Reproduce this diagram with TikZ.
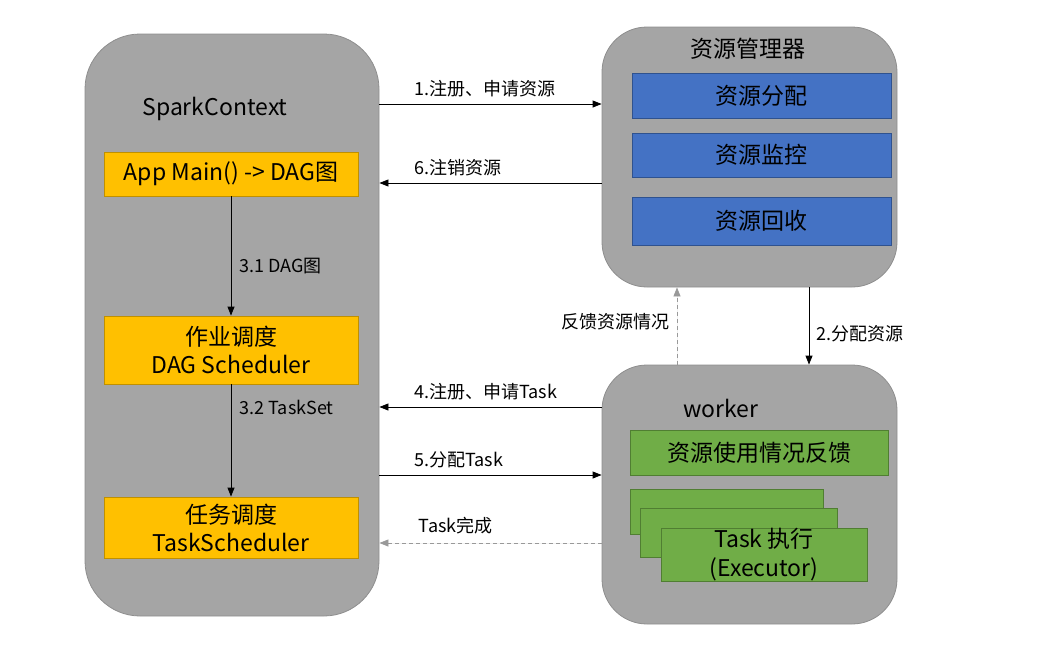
\documentclass[tikz,border=0pt]{standalone}
\usepackage{fontspec}
\setmainfont{Noto Sans CJK SC}
\usepackage{tikz}
\usetikzlibrary{arrows.meta,positioning,calc}

\definecolor{boxgray}{HTML}{A5A5A5}
\definecolor{linegray}{HTML}{8E8E8E}
\definecolor{appyellow}{HTML}{FFC000}
\definecolor{yellowline}{HTML}{C09000}
\definecolor{resblue}{HTML}{4472C4}
\definecolor{blueline}{HTML}{2F528F}
\definecolor{workgreen}{HTML}{70AD47}
\definecolor{greenline}{HTML}{507E32}
\definecolor{fbgray}{HTML}{999999}

\tikzset{
  bigbox/.style={draw=linegray, fill=boxgray, line width=0.8pt, inner sep=0pt},
  ybox/.style={draw=yellowline, fill=appyellow, line width=0.8pt, minimum width=254pt, align=center, inner sep=0pt, font=\fontsize{23}{28}\selectfont},
  bbox/.style={draw=blueline, fill=resblue, line width=0.8pt, minimum width=259pt, inner sep=0pt, font=\fontsize{23}{28}\selectfont},
  gbox/.style={draw=greenline, fill=workgreen, line width=0.8pt, align=center, inner sep=0pt, font=\fontsize{23}{29}\selectfont},
  title/.style={font=\fontsize{23}{26}\selectfont},
  lbl/.style={font=\fontsize{18}{20}\selectfont},
  arr/.style={-{Triangle[length=9pt,width=7pt]}, line width=0.8pt},
  fb/.style={arr, dashed, draw=fbgray, fill=fbgray, dash pattern=on 4pt off 3pt},
}

\begin{document}
\begin{tikzpicture}[x=1pt,y=-1pt]
    \useasboundingbox (0,0) rectangle (1042,656);

    % SparkContext
    \node[bigbox, rounded corners=55pt, minimum width=294pt, minimum height=582pt] (sc) at (232,325) {};
    \node[title] (sctitle) at (215,109) {SparkContext};
    \node[ybox, minimum height=44pt] (app) at (231,174) {App Main() -> DAG图};
    \node[ybox, minimum height=68pt] (dag) at (231,350) {作业调度\\DAG Scheduler};
    \node[ybox, minimum height=61pt] (ts) at (231,527.5) {任务调度\\TaskScheduler};
    \draw[arr] (app) -- (dag);
    \draw[arr] (dag) -- (ts);
    \node[lbl, anchor=west] (l31) at (236,266) {3.1 DAG图};
    \node[lbl, anchor=west] (l32) at (236,407) {3.2 TaskSet};

    % Resource manager
    \node[bigbox, rounded corners=45pt, minimum width=295pt, minimum height=260pt] (rm) at (749.5,157) {};
    \node[title] (rmtitle) at (748,49) {资源管理器};
    \node[bbox, minimum height=45pt] (alloc) at (761.5,95.5) {资源分配};
    \node[bbox, minimum height=44pt] (mon) at (761.5,155) {资源监控};
    \node[bbox, minimum height=48pt] (rec) at (761.5,221) {资源回收};

    % Worker
    \node[bigbox, rounded corners=45pt, minimum width=295pt, minimum height=259pt] (wk) at (749.5,494.5) {};
    \node[title] (wktitle) at (721,408) {worker};
    \node[gbox, minimum width=258pt, minimum height=45pt] (fbk) at (759,452.5) {资源使用情况反馈};
    \node[gbox, minimum width=193pt, minimum height=45pt] (ex1) at (726.5,511.5) {};
    \node[gbox, minimum width=197pt, minimum height=49pt] (ex2) at (738.5,532.5) {};
    \node[gbox, minimum width=206pt, minimum height=51pt] (ex3) at (764,554.5) {Task 执行\\(Executor)};

    % SparkContext <-> resource manager
    \coordinate (y1) at (0,104);
    \coordinate (y6) at (0,183);
    \draw[arr] (sc.east |- y1) -- (rm.west |- y1) node[lbl, pos=0.14, above=3pt, anchor=south west] {1.注册、申请资源};
    \draw[arr] (rm.west |- y6) -- (sc.east |- y6) node[lbl, pos=0.86, above=3pt, anchor=south west] {6.注销资源};

    % SparkContext <-> worker
    \coordinate (y4) at (0,407);
    \coordinate (y5) at (0,475);
    \coordinate (y7) at (0,543);
    \draw[arr] (wk.west |- y4) -- (sc.east |- y4) node[lbl, pos=0.86, above=3pt, anchor=south west] {4.注册、申请Task};
    \draw[arr] (sc.east |- y5) -- (wk.west |- y5) node[lbl, pos=0.14, above=3pt, anchor=south west] {5.分配Task};
    \draw[fb] (wk.west |- y7) -- (sc.east |- y7) node[lbl, pos=0.84, above=5pt, anchor=south west] {Task完成};

    % resource manager <-> worker
    \coordinate (x2) at (809,0);
    \coordinate (xf) at (677,0);
    \draw[arr] (rm.south -| x2) -- (wk.north -| x2) node[lbl, pos=0.6, right=4pt] {2.分配资源};
    \draw[fb] (wk.north -| xf) -- (rm.south -| xf) node[lbl, pos=0.55, left=4pt] {反馈资源情况};
\end{tikzpicture}
\end{document}
